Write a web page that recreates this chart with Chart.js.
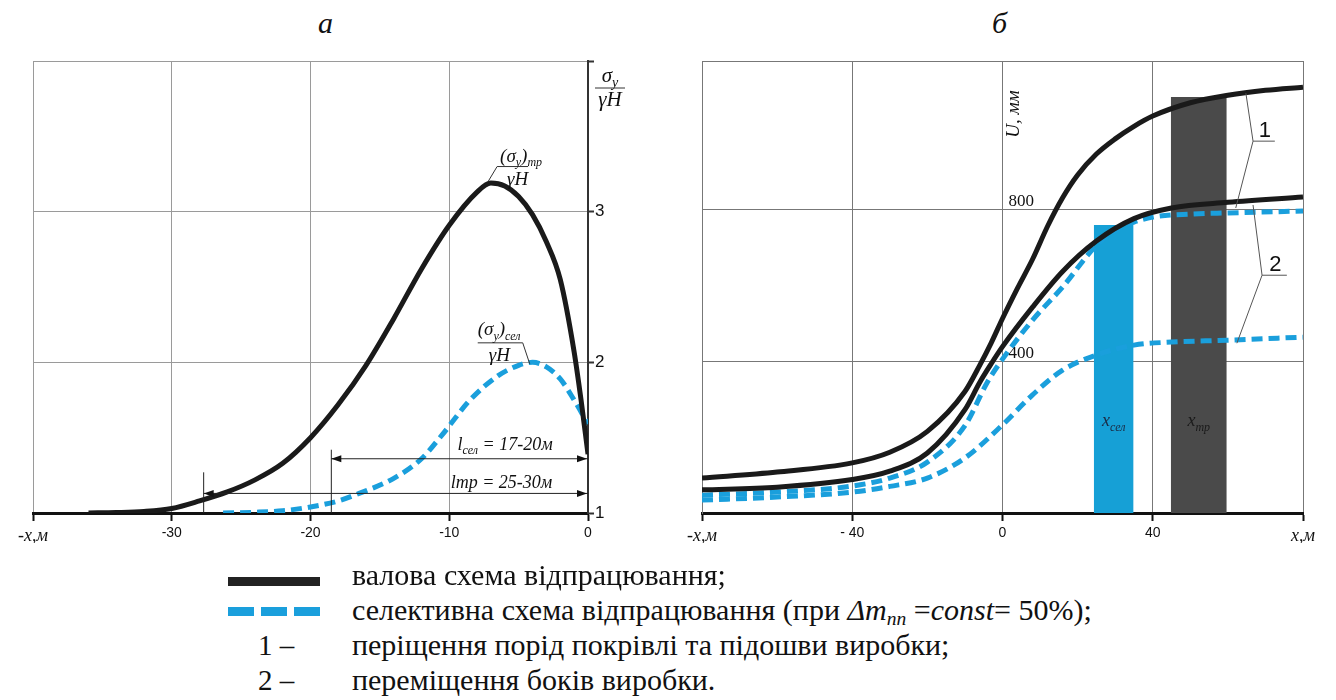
<!DOCTYPE html>
<html>
<head>
<meta charset="utf-8">
<script src="https://cdn.jsdelivr.net/npm/chart.js@4.4.0/dist/chart.umd.min.js"></script>
<style>
  body { margin: 0; background: #fff; width: 1336px; height: 700px; overflow: hidden; position: relative;
         font-family: "Liberation Serif", "Times New Roman", Times, "DejaVu Serif", "Noto Serif", serif; color: #111; }
  #ca { position: absolute; left: 0; top: 0; }
  #cb { position: absolute; left: 668px; top: 0; }
  .ttl { position: absolute; top: 6px; font-style: italic; font-size: 30px; }
  .row { position: absolute; left: 352px; font-size: 30px; line-height: 34px; white-space: nowrap; }
  .num { position: absolute; font-size: 29px; line-height: 34px; white-space: nowrap; }
  .swatch { position: absolute; height: 9px; }
  sub { font-size: 0.65em; vertical-align: -0.25em; line-height: 0; }
</style>
</head>
<body>
<div class="ttl" style="left:318px">а</div>
<div class="ttl" style="left:992px">б</div>

<canvas id="ca" width="668" height="560"></canvas>
<canvas id="cb" width="668" height="560"></canvas>

<div class="swatch" style="left:228px;top:577px;width:92px;background:#222"></div>
<div class="swatch" style="left:228px;top:607px;width:26px;background:#1a9fdc"></div>
<div class="swatch" style="left:261px;top:607px;width:26px;background:#1a9fdc"></div>
<div class="swatch" style="left:294px;top:607px;width:26px;background:#1a9fdc"></div>
<div class="row" style="top:558px">валова схема відпрацювання;</div>
<div class="row" style="top:593px">селективна схема відпрацювання (при <i>Δm<sub>пп</sub></i> =<i>const</i>= 50%);</div>
<div class="num" style="left:258px;top:628px">1 –</div>
<div class="row" style="top:628px">періщення порід покрівлі та підошви виробки;</div>
<div class="num" style="left:258px;top:663px">2 –</div>
<div class="row" style="top:663px">переміщення боків виробки.</div>

<script>
// --- chart а: stress concentration sigma_y / gammaH vs distance, m
const aTicksX = [-40, -30, -20, -10, 0]
const aTicksY = [1, 2, 3, 4]
const aX_tr = [-36, -34, -32, -30, -28, -26, -24, -22, -20, -18, -16, -14, -12, -10, -8, -7, -6, -5, -4, -3, -2, -1, -0.5, 0]
const aY_tr = [1.00, 1.003, 1.01, 1.03, 1.08, 1.14, 1.22, 1.33, 1.50, 1.72, 1.98, 2.29, 2.62, 2.91, 3.13, 3.19, 3.17, 3.10, 2.98, 2.80, 2.55, 2.07, 1.75, 1.39]
const aX_sel = [-26.3, -24, -22, -20, -18, -16.5, -14, -12, -10.5, -8.5, -6.5, -5, -4, -3, -2, -1, 0]
const aY_sel = [1.0, 1.005, 1.015, 1.04, 1.08, 1.13, 1.23, 1.36, 1.52, 1.75, 1.91, 1.98, 2.0, 1.97, 1.89, 1.75, 1.59]
// dimension lines l_sel and l_tr (start x, level y)
const lSel = {from: -18.5, to: 0, level: 1.36, text: ' = 17-20м'}
const lTr = {from: -27.7, to: 0, level: 1.13, text: ' = 25-30м'}

// --- chart б: displacement U, mm vs x, m
const bTicksX = [-80, -40, 0, 40, 80]
const bTicksY = [0, 400, 800, 1190]
const bX_tr1 = [-80, -60, -40, -30, -20, -10, -6, -3, 0, 4, 8, 12, 16, 20, 25, 30, 35, 40, 50, 60, 70, 80]
const bY_tr1 = [92, 108, 132, 160, 215, 320, 390, 448, 512, 592, 668, 755, 830, 890, 945, 985, 1018, 1045, 1080, 1100, 1113, 1121]
const bX_tr2 = [-80, -60, -40, -30, -20, -10, -6, -3, 0, 8, 16, 25, 35, 45, 60, 80]
const bY_tr2 = [61, 68, 88, 110, 158, 272, 345, 393, 438, 542, 636, 716, 775, 803, 818, 832]
const bX_sel1 = [-80, -60, -40, -30, -20, -10, -4, 0, 8, 16, 25, 30, 35, 40, 50, 60, 80]
const bY_sel1 = [47, 55, 71, 92, 134, 230, 345, 405, 508, 595, 705, 745, 766, 779, 787, 790, 795]
const bX_sel2 = [-80, -60, -40, -30, -20, -10, 0, 8, 16, 25, 35, 45, 60, 80]
const bY_sel2 = [34, 42, 55, 70, 92, 145, 232, 311, 376, 416, 442, 450, 455, 463]
const zoneSel = {from: 24.3, to: 34.9, top: 758}
const zoneTr = {from: 44.8, to: 59.7, top: 1095}

const BLACK = '#1a1a1a'
const BLUE = '#1a9fdc'
const SERIF = '"Liberation Serif", "Times New Roman", "DejaVu Serif", serif'
const SANS = '"Liberation Sans", Arial, sans-serif'

const toPts = (xs, ys) => xs.map((x, i) => ({x: x, y: ys[i]}))
const zonePts = z => [{x: z.from, y: 0}, {x: z.from, y: z.top}, {x: z.to, y: z.top}, {x: z.to, y: 0}]

// draws text made of [string, isSub] parts, italic serif
function rich(ctx, x, y, parts, size, align) {
    const subSize = Math.round(size * 0.65)
    let w = 0
    parts.forEach(p => {
        ctx.font = 'italic ' + (p[1] ? subSize : size) + 'px ' + SERIF
        w += ctx.measureText(p[0]).width
    })
    let cx = align === 'center' ? x - w / 2 : (align === 'right' ? x - w : x)
    ctx.textAlign = 'left'
    ctx.textBaseline = 'alphabetic'
    parts.forEach(p => {
        ctx.font = 'italic ' + (p[1] ? subSize : size) + 'px ' + SERIF
        ctx.fillText(p[0], cx, y + (p[1] ? size * 0.25 : 0))
        cx += ctx.measureText(p[0]).width
    })
    return w
}

function arrow(ctx, x, y, dir) {
    ctx.beginPath()
    ctx.moveTo(x, y)
    ctx.lineTo(x - dir * 10, y - 3.5)
    ctx.lineTo(x - dir * 10, y + 3.5)
    ctx.closePath()
    ctx.fill()
}

function line(ctx, x1, y1, x2, y2) {
    ctx.beginPath()
    ctx.moveTo(x1, y1)
    ctx.lineTo(x2, y2)
    ctx.stroke()
}

function tickFont(c) {
    const v = c.tick ? c.tick.value : 0
    if (v === -40 && c.chart.canvas.id === 'ca') return {family: SERIF, size: 18, style: 'italic'}
    if (Math.abs(v) === 80) return {family: SERIF, size: 18, style: 'italic'}
    return {family: SANS, size: 14}
}

const annoA = {
    id: 'annoA',
    afterDatasetsDraw(chart) {
        const {ctx, chartArea, scales: {x, y}} = chart
        ctx.save()
        ctx.fillStyle = '#111'
        ctx.strokeStyle = '#333'
        ctx.lineWidth = 1

        // axis title sigma_y / gammaH
        const tx = chartArea.right + 22
        rich(ctx, tx, chartArea.top + 21, [['σ', 0], ['y', 1]], 21, 'center')
        line(ctx, tx - 15, chartArea.top + 27, tx + 15, chartArea.top + 27)
        rich(ctx, tx, chartArea.top + 45, [['γH', 0]], 21, 'center')

        // (sigma_y)_tr / gammaH
        let px = x.getPixelForValue(-7.2), py = y.getPixelForValue(3.2)
        line(ctx, px, py, px + 9, py - 15)
        line(ctx, px + 9, py - 15, px + 40, py - 15)
        rich(ctx, px + 12, py - 20, [['(σ', 0], ['y', 1], [')', 0], ['тр', 1]], 19, 'left')
        rich(ctx, px + 19, py + 3, [['γH', 0]], 19, 'left')

        // (sigma_y)_sel / gammaH
        px = x.getPixelForValue(-4.2); py = y.getPixelForValue(1.99)
        line(ctx, px, py, px - 7, py - 21)
        line(ctx, px - 7, py - 21, px - 52, py - 21)
        rich(ctx, px - 52, py - 29, [['(σ', 0], ['y', 1], [')', 0], ['сел', 1]], 19, 'left')
        rich(ctx, px - 41, py - 3, [['γH', 0]], 19, 'left')

        // dimension lines
        ctx.strokeStyle = '#222'
        ctx.fillStyle = '#111'
        const base = y.getPixelForValue(1)
        ;[[lSel, 'сел', true, 1.42], [lTr, 'тр', false, 1.27]].forEach(d => {
            const dim = d[0]
            const x1 = x.getPixelForValue(dim.from), x2 = x.getPixelForValue(dim.to)
            const yy = y.getPixelForValue(dim.level)
            line(ctx, x1, yy, x2, yy)
            line(ctx, x1, base, x1, y.getPixelForValue(d[3]))
            arrow(ctx, x1, yy, -1)
            arrow(ctx, x2 - 1, yy, 1)
            rich(ctx, x.getPixelForValue(d[2] ? -9.4 : -9.9), yy - (d[2] ? 9 : 5),
                [['l', 0], [d[1], d[2] ? 1 : 0], [dim.text, 0]], 18, 'left')
        })
        ctx.restore()
    }
}

const annoB = {
    id: 'annoB',
    afterDatasetsDraw(chart) {
        const {ctx, chartArea, scales: {x, y}} = chart
        const x0 = x.getPixelForValue(0)
        ctx.save()
        ctx.fillStyle = '#111'

        // y tick labels written inside the plot, right of x = 0
        ctx.font = '17px ' + SERIF
        ctx.textAlign = 'left'
        ctx.textBaseline = 'alphabetic'
        bTicksY.filter(v => v === 400 || v === 800).forEach(v => {
            ctx.fillText(String(v), x0 + 6, y.getPixelForValue(v) - 3)
        })

        // axis title
        ctx.save()
        ctx.translate(x0 + 16, chartArea.top + 53)
        ctx.rotate(-Math.PI / 2)
        rich(ctx, 0, 0, [['U, мм', 0]], 19, 'center')
        ctx.restore()

        // zone labels
        ctx.fillStyle = '#1b2a44'
        rich(ctx, x.getPixelForValue((zoneSel.from + zoneSel.to) / 2), y.getPixelForValue(228),
            [['x', 0], ['сел', 1]], 18, 'center')
        ctx.fillStyle = '#1a1a1a'
        rich(ctx, x.getPixelForValue((zoneTr.from + zoneTr.to) / 2), y.getPixelForValue(228),
            [['x', 0], ['тр', 1]], 18, 'center')

        // leader lines 1 and 2
        ctx.strokeStyle = '#555'
        ctx.lineWidth = 1
        ctx.fillStyle = '#111'
        ctx.font = '22px ' + SANS
        ctx.textAlign = 'center'
        const leaders = [
            {label: '1', jx: 66.7, jy: 979, ends: [[64.8, 1105], [62.1, 803]], hx: 72.5},
            {label: '2', jx: 69.1, jy: 626, ends: [[66.7, 811], [62.4, 447]], hx: 75.7}
        ]
        leaders.forEach(l => {
            const jx = x.getPixelForValue(l.jx), jy = y.getPixelForValue(l.jy)
            const hx = x.getPixelForValue(l.hx)
            line(ctx, jx, jy, hx, jy)
            l.ends.forEach(e => line(ctx, jx, jy, x.getPixelForValue(e[0]), y.getPixelForValue(e[1])))
            ctx.fillText(l.label, (jx + hx) / 2 + 1, jy - 4)
        })
        ctx.restore()
    }
}

const lineSet = (pts, color, dashed) => ({
    data: pts,
    borderColor: color,
    borderWidth: 5,
    borderDash: dashed ? [11, 6] : [],
    borderCapStyle: 'butt',
    cubicInterpolationMode: 'monotone',
    fill: false,
    pointRadius: 0
})

const chartA = new Chart(document.getElementById('ca'), {
    type: 'line',
    data: {
        datasets: [
            lineSet(toPts(aX_tr, aY_tr), BLACK, false),
            lineSet(toPts(aX_sel, aY_sel), BLUE, true)
        ]
    },
    options: {
        responsive: false,
        animation: false,
        layout: {padding: {left: 33, right: 40, top: 61, bottom: 17}},
        plugins: {legend: {display: false}, tooltip: {enabled: false}},
        scales: {
            x: {
                type: 'linear', min: -40, max: 0,
                afterBuildTicks: s => { s.ticks = aTicksX.map(v => ({value: v})) },
                afterFit: s => { s.height = 30 },
                grid: {color: '#9a9a9a', lineWidth: 1, tickLength: 8, tickColor: '#111', tickWidth: 2},
                border: {color: '#111', width: 3},
                ticks: {
                    callback: v => v === -40 ? '-х,м' : String(v),
                    font: tickFont, color: '#111', padding: 4, maxRotation: 0, autoSkip: false
                }
            },
            y: {
                type: 'linear', min: 1, max: 4, position: 'right',
                afterBuildTicks: s => { s.ticks = aTicksY.map(v => ({value: v})) },
                afterFit: s => { s.width = 40 },
                grid: {color: '#9a9a9a', lineWidth: 1, tickLength: 6, tickColor: '#333', tickWidth: 2},
                border: {color: '#333', width: 2},
                ticks: {callback: v => v === 4 ? '' : String(v), font: {family: SANS, size: 17}, color: '#111', padding: 1}
            }
        }
    },
    plugins: [annoA]
})

const chartB = new Chart(document.getElementById('cb'), {
    type: 'line',
    data: {
        datasets: [
            lineSet(toPts(bX_tr1, bY_tr1), BLACK, false),
            lineSet(toPts(bX_tr2, bY_tr2), BLACK, false),
            lineSet(toPts(bX_sel1, bY_sel1), BLUE, true),
            lineSet(toPts(bX_sel2, bY_sel2), BLUE, true),
            {data: zonePts(zoneSel), borderWidth: 0, tension: 0, pointRadius: 0,
             fill: 'origin', backgroundColor: '#16a0d6'},
            {data: zonePts(zoneTr), borderWidth: 0, tension: 0, pointRadius: 0,
             fill: 'origin', backgroundColor: '#4a4a4a'}
        ]
    },
    options: {
        responsive: false,
        animation: false,
        layout: {padding: {left: 34, right: 33, top: 61, bottom: 17}},
        plugins: {legend: {display: false}, tooltip: {enabled: false}},
        scales: {
            x: {
                type: 'linear', min: -80, max: 80,
                afterBuildTicks: s => { s.ticks = bTicksX.map(v => ({value: v})) },
                afterFit: s => { s.height = 30 },
                grid: {color: '#777', lineWidth: 1, tickLength: 8, tickColor: '#111', tickWidth: 2},
                border: {color: '#111', width: 3},
                ticks: {
                    callback: v => v === -80 ? '-х,м' : (v === 80 ? 'х,м' : (v === -40 ? '- 40' : String(v))),
                    font: tickFont, color: '#111', padding: 4, maxRotation: 0, autoSkip: false
                }
            },
            y: {
                type: 'linear', min: 0, max: 1190,
                afterBuildTicks: s => { s.ticks = bTicksY.map(v => ({value: v})) },
                afterFit: s => { s.width = 0 },
                grid: {color: '#777', lineWidth: 1, drawTicks: false},
                border: {color: '#777', width: 1},
                ticks: {display: false}
            }
        }
    },
    plugins: [annoB]
})
</script>
</body>
</html>
